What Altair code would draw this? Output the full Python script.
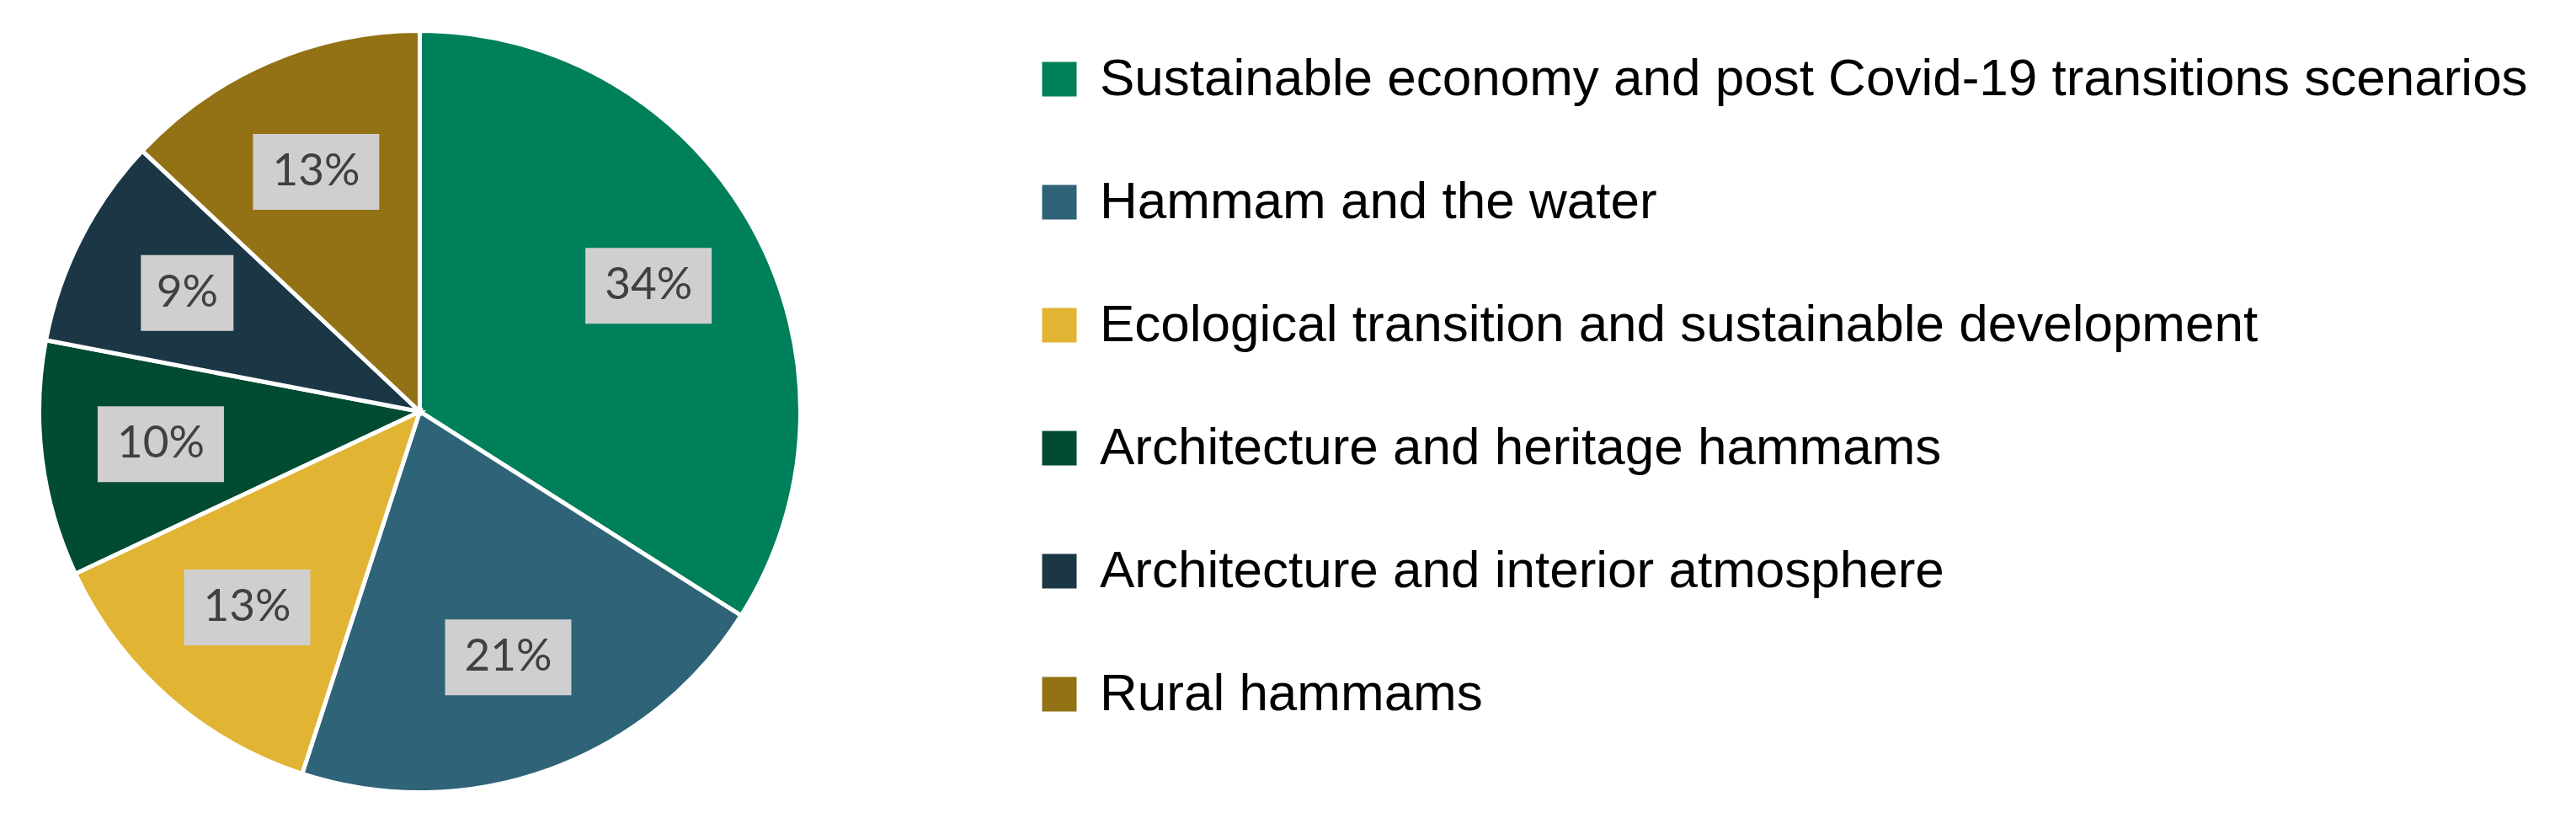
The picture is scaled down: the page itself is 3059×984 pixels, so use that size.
import altair as alt
import pandas as pd

categories = [
    "\u00a0Sustainable economy and post Covid-19 transitions scenarios",
    "Hammam and the water",
    "Ecological transition and sustainable development",
    "Architecture and heritage hammams",
    "Architecture and interior atmosphere",
    "Rural hammams",
]
values = [34, 21, 13, 10, 9, 13]
labels = ["34%", "21%", "13%", "10%", "9%", "13%"]
colors = ["#00805A", "#2E6378", "#E1B434", "#004B31", "#1B3746", "#927214"]

df = pd.DataFrame({
    "category": categories,
    "value": values,
    "label": labels,
    "order": list(range(len(categories))),
})

CX, CY = 490.5, 480.5  # pie centre inside plot area (px)
R = 452                # pie radius (px)
LR = 310               # label radius (px)

base = alt.Chart(df)

pie = base.mark_arc(outerRadius=R, stroke="white", strokeWidth=5).encode(
    theta=alt.Theta("value:Q", stack=True),
    order=alt.Order("order:Q"),
    color=alt.Color(
        "category:N",
        scale=alt.Scale(domain=categories, range=colors),
        legend=alt.Legend(
            title=None,
            orient="none",
            legendX=1219,
            legendY=55,
            symbolType="square",
            symbolSize=1681,
            symbolStrokeWidth=0,
            symbolOpacity=1,
            labelFont="Liberation Sans",
            labelFontSize=62,
            labelColor="#000000",
            labelLimit=3000,
            labelOffset=17,
            rowPadding=84,
            padding=0,
        ),
    ),
    x=alt.value(CX),
    y=alt.value(CY),
)

pos = base.transform_window(
    cum="sum(value)", sort=[alt.SortField("order")], frame=[None, 0]
).transform_joinaggregate(
    total="sum(value)"
).transform_calculate(
    ang="(datum.cum - datum.value/2) / datum.total * 2 * PI",
).transform_calculate(
    px=f"{CX} + {LR} * sin(datum.ang)",
    py=f"{CY} - {LR} * cos(datum.ang)",
    hw="(40 * length(datum.label) + 30) / 2",
).transform_calculate(
    x1="datum.px - datum.hw",
    x2="datum.px + datum.hw",
    y1="datum.py - 45",
    y2="datum.py + 45",
)

boxes = pos.mark_rect(color="#D0CECE").encode(
    x=alt.X("x1:Q", scale=None, axis=None),
    x2="x2:Q",
    y=alt.Y("y1:Q", scale=None, axis=None),
    y2="y2:Q",
)

texts = pos.mark_text(
    font="Lato", fontSize=53, color="#404040", baseline="middle", align="center"
).encode(
    x=alt.X("px:Q", scale=None, axis=None),
    y=alt.Y("py:Q", scale=None, axis=None),
    text="label:N",
)

chart = alt.layer(pie, boxes, texts).properties(
    width=1000, height=960, padding=0
).configure_view(strokeWidth=0)

chart.save("out.html", embed_options={"renderer": "svg", "actions": False})
